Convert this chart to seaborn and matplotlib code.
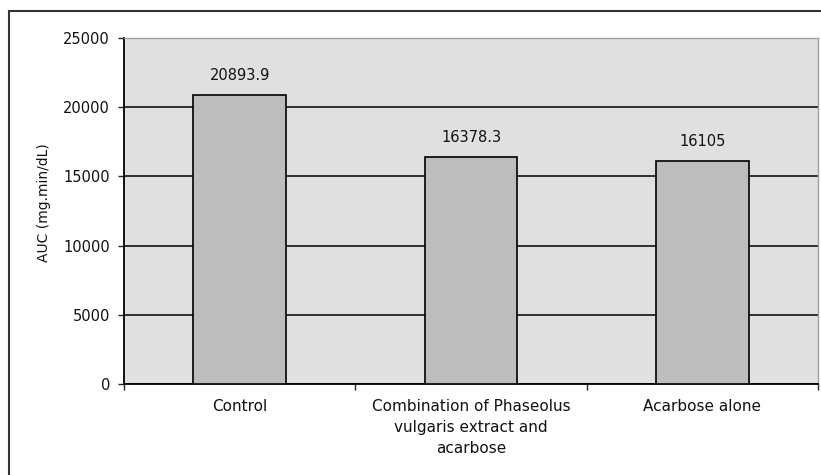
import seaborn as sns
import matplotlib.pyplot as plt
import pandas as pd
from matplotlib.patches import Rectangle

categories = ["Control", "Combination of Phaseolus\nvulgaris extract and\nacarbose", "Acarbose alone"]
auc_values = [20893.9, 16378.3, 16105]
value_labels = ["20893.9", "16378.3", "16105"]
y_ticks = [0, 5000, 10000, 15000, 20000, 25000]

df = pd.DataFrame({"group": categories, "auc": auc_values})

sns.set_style("white")
plt.rcParams['font.family'] = ['DejaVu Sans']

fig = plt.figure(figsize=(8.21, 4.75), dpi=100)
ax = fig.add_axes([124 / 821, 1 - 384 / 475, (818 - 124) / 821, (384 - 38) / 475])
ax.set_facecolor("#e0e0e0")

sns.barplot(data=df, x="group", y="auc", color="#bdbdbd", edgecolor="black",
            linewidth=1.2, width=0.4, saturation=1, ax=ax, zorder=3)

ax.set_yticks(y_ticks)
ax.set_yticklabels([str(t) for t in y_ticks], fontsize=10.5, color="#111111")
ax.yaxis.grid(True, color="black", linewidth=1.1)
ax.set_axisbelow(True)

ax.set_xticks(range(len(categories)))
ax.set_xticklabels(categories, fontsize=11, linespacing=1.5, va="top", color="#111111")
ax.tick_params(axis="x", length=0, pad=11)
ax.tick_params(axis="y", length=4, width=1, direction="out", left=True, pad=6)
ax.set_xticks([-0.5, 0.5, 1.5, 2.5], minor=True)
ax.tick_params(axis="x", which="minor", length=4, width=1, direction="out", bottom=True)

# limits last, set_xticks would widen them otherwise
ax.set_ylim(0, 25000)
ax.set_xlim(-0.5, 2.5)

for i, v in enumerate(auc_values):
    ax.annotate(value_labels[i], (i, v), xytext=(0, 14), textcoords="offset points",
                ha="center", va="center", fontsize=10.5, color="#111111")

ax.set_xlabel("")
ax.set_ylabel("AUC (mg.min/dL)", fontsize=10, color="#111111")
ax.yaxis.set_label_coords(-0.105, 0.523)

for side in ["left", "bottom"]:
    ax.spines[side].set_color("black")
    ax.spines[side].set_linewidth(1.3)
for side in ["top", "right"]:
    ax.spines[side].set_color("#a0a0a0")
    ax.spines[side].set_linewidth(1)

fig.patches.append(Rectangle((9 / 821, -0.05), 1.2, 1 - 11 / 475 + 0.05,
                             transform=fig.transFigure, fill=False,
                             edgecolor="#333333", linewidth=1.5))

plt.savefig("out.png", dpi=100)
